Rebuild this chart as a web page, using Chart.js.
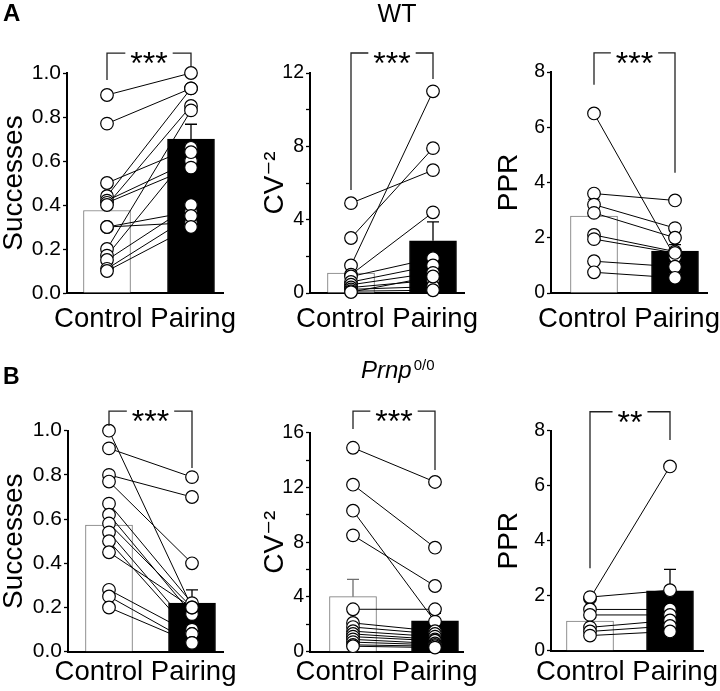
<!DOCTYPE html>
<html>
<head>
<meta charset="utf-8">
<script src="https://cdn.jsdelivr.net/npm/chart.js@4.4.0/dist/chart.umd.min.js"></script>
<style>
  body { margin: 0; background: #fff; width: 720px; height: 691px; position: relative; overflow: hidden;
         font-family: 'Liberation Sans', Arial, 'DejaVu Sans', sans-serif; color: #000; }
  .layer { position: absolute; left: 0; top: 0; width: 720px; height: 691px; }
  .txt { position: absolute; line-height: 1; white-space: nowrap; z-index: 5; }
  .sup { font-size: 15px; font-style: normal; position: relative; top: -8px; margin-left: 2px; }
</style>
</head>
<body>
<div class="txt" style="left:3px;top:1px;font-size:24px;font-weight:bold">A</div>
<div class="txt" style="left:347px;top:1px;width:100px;text-align:center;font-size:25px">WT</div>
<div class="txt" style="left:3px;top:365px;font-size:23px;font-weight:bold">B</div>
<div class="txt" style="left:361px;top:358px;font-size:24px;font-style:italic">Prnp<span class="sup">0/0</span></div>

<canvas id="a1" class="layer" width="720" height="691"></canvas>
<canvas id="a2" class="layer" width="720" height="691"></canvas>
<canvas id="a3" class="layer" width="720" height="691"></canvas>
<canvas id="b1" class="layer" width="720" height="691"></canvas>
<canvas id="b2" class="layer" width="720" height="691"></canvas>
<canvas id="b3" class="layer" width="720" height="691"></canvas>

<script>
const categories = ['Control', 'Pairing'];

// A: WT
const wtSuccControl = [0.90, 0.77, 0.50, 0.44, 0.42, 0.41, 0.40, 0.30, 0.30, 0.20, 0.17, 0.15, 0.11, 0.10];
const wtSuccPairing = [1.00, 0.93, 0.66, 0.93, 0.60, 0.57, 0.85, 0.32, 0.37, 0.83, 0.64, 0.40, 0.35, 0.30];
const wtSuccMean = [0.375, 0.70];
const wtSuccErr = [0.425, 0.767];

const wtCvControl = [4.9, 3.0, 1.5, 1.0, 0.9, 0.6, 0.45, 0.3, 0.2, 0.1, 0.05];
const wtCvPairing = [6.7, 7.9, 11.0, 4.4, 1.9, 1.5, 1.1, 0.7, 0.35, 0.15, 0.9];
const wtCvMean = [1.08, 2.85];
const wtCvErr = [1.35, 3.88];

const wtPprControl = [6.5, 3.6, 3.2, 2.9, 2.1, 1.95, 1.15, 0.75];
const wtPprPairing = [1.3, 3.35, 2.35, 2.0, 1.5, 1.45, 0.95, 0.55];
const wtPprMean = [2.78, 1.52];
const wtPprErr = [3.39, 1.75];

// B: Prnp 0/0
const koSuccControl = [1.00, 0.92, 0.80, 0.77, 0.67, 0.62, 0.58, 0.54, 0.50, 0.45, 0.28, 0.25, 0.20];
const koSuccPairing = [0.20, 0.79, 0.70, 0.40, 0.22, 0.17, 0.20, 0.10, 0.08, 0.20, 0.08, 0.04, 0.04];
const koSuccMean = [0.573, 0.22];
const koSuccErr = [0.63, 0.28];

const koCvControl = [14.9, 12.2, 10.3, 8.5, 3.1, 2.1, 1.8, 1.5, 1.3, 1.1, 0.9, 0.7, 0.5, 0.4];
const koCvPairing = [12.4, 7.6, 2.2, 4.8, 3.1, 1.5, 1.3, 1.1, 0.9, 0.8, 0.6, 0.5, 0.4, 0.3];
const koCvMean = [4.02, 2.26];
const koCvErr = [5.28, 2.8];

const koPprControl = [1.9, 1.95, 1.5, 1.3, 0.85, 0.7, 0.55];
const koPprPairing = [6.7, 2.2, 1.5, 1.3, 1.1, 0.9, 0.7];
const koPprMean = [1.08, 2.18];
const koPprErr = [1.3, 2.96];

const FONT = "'Liberation Sans', Arial, 'DejaVu Sans', sans-serif";
Chart.defaults.font.family = FONT;
Chart.defaults.color = '#000';

function errorBarPlugin(tops) {
  return {
    id: 'errorBars',
    afterDatasetDraw(chart, args) {
      if (args.meta.type !== 'bar') return;
      const ctx = chart.ctx;
      const y = chart.scales.y;
      args.meta.data.forEach((bar, i) => {
        const top = y.getPixelForValue(tops[i]);
        ctx.save();
        ctx.strokeStyle = i === 0 ? '#6f6f6f' : '#000';
        ctx.lineWidth = 1.3;
        ctx.beginPath();
        ctx.moveTo(bar.x, bar.y);
        ctx.lineTo(bar.x, top);
        ctx.moveTo(bar.x - 6, top);
        ctx.lineTo(bar.x + 6, top);
        ctx.stroke();
        ctx.restore();
      });
    }
  };
}

// significance bracket and the "Control Pairing" line under the axis
function annotationPlugin(b, labelBaseline) {
  return {
    id: 'annot',
    afterDraw(chart) {
      const { ctx, chartArea, scales: { x, y } } = chart;
      const x0 = x.getPixelForValue(0), x1 = x.getPixelForValue(1);
      const yt = y.getPixelForValue(b.top);
      const mid = (x0 + x1) / 2;
      ctx.save();
      ctx.font = '32px ' + FONT;
      const w = ctx.measureText(b.text).width;
      ctx.strokeStyle = '#222';
      ctx.lineWidth = 1.3;
      ctx.beginPath();
      ctx.moveTo(x0, y.getPixelForValue(b.left));
      ctx.lineTo(x0, yt);
      ctx.lineTo(mid - w / 2 - 5, yt);
      ctx.moveTo(mid + w / 2 + 5, yt);
      ctx.lineTo(x1, yt);
      ctx.lineTo(x1, y.getPixelForValue(b.right));
      ctx.stroke();
      ctx.fillStyle = '#000';
      ctx.textAlign = 'center';
      ctx.textBaseline = 'alphabetic';
      ctx.fillText(b.text, mid, yt + 21);

      ctx.font = '27.5px ' + FONT;
      ctx.fillText(categories.join(' '), (chartArea.left + chartArea.right) / 2, labelBaseline);
      ctx.restore();
    }
  };
}

function makePanel(id, p, L) {
  const span = L.pairX - L.ctrlX;
  const xAxisH = 10;
  const datasets = [{
    type: 'bar',
    data: p.mean.map((v, i) => ({ x: i, y: v })),
    backgroundColor: ['#fff', '#000'],
    borderColor: ['#7a7a7a', '#000'],
    borderWidth: 1,
    barThickness: 47,
    order: 10
  }];
  p.control.forEach((c, i) => {
    datasets.push({
      type: 'line',
      data: [{ x: 0, y: c }, { x: 1, y: p.pairing[i] }],
      borderColor: '#000',
      borderWidth: 1,
      pointRadius: 0,
      clip: false,
      order: 5
    });
  });
  datasets.push({
    type: 'line',
    showLine: false,
    data: p.control.map(v => ({ x: 0, y: v })).concat(p.pairing.map(v => ({ x: 1, y: v }))),
    pointRadius: 6.3,
    pointBorderWidth: 1.2,
    pointBackgroundColor: '#fff',
    pointBorderColor: '#000',
    clip: false,
    order: 0
  });

  new Chart(document.getElementById(id), {
    type: 'bar',
    data: { datasets },
    options: {
      responsive: false,
      animation: false,
      events: [],
      layout: {
        padding: { left: L.titleLeft, top: L.top, right: 720 - L.right, bottom: 691 - L.bottom - xAxisH }
      },
      plugins: { legend: { display: false }, tooltip: { enabled: false } },
      scales: {
        x: {
          type: 'linear',
          offset: false,
          min: -(L.ctrlX - L.axisX) / span,
          max: 1 + (L.right - L.pairX) / span,
          ticks: { display: false },
          grid: { display: false, offset: false },
          border: { display: true, color: '#000', width: 2 },
          afterFit(s) { s.height = xAxisH; s.paddingLeft = 0; s.paddingRight = 0; }
        },
        y: {
          min: 0,
          max: p.yMax,
          ticks: {
            stepSize: p.step,
            autoSkip: false,
            maxTicksLimit: 30,
            padding: 2,
            font: { size: p.tickSize },
            color: '#000',
            callback: v => {
              const r = v / p.labelEvery;
              return Math.abs(r - Math.round(r)) < 1e-6 ? v.toFixed(p.decimals) : '';
            }
          },
          grid: { drawOnChartArea: false, drawTicks: true, tickLength: 4, tickWidth: 1.3, color: '#000' },
          border: { display: true, color: '#000', width: 2 },
          title: { display: true, text: p.yTitle, font: { size: 28, lineHeight: 1 }, padding: 0, color: '#000' },
          afterFit(s) { s.width = L.axisX - L.titleLeft; s.paddingTop = 0; s.paddingBottom = 0; }
        }
      }
    },
    plugins: [errorBarPlugin(p.err), annotationPlugin(p.bracket, L.labelBaseline)]
  });
}

makePanel('a1', {
  control: wtSuccControl, pairing: wtSuccPairing, mean: wtSuccMean, err: wtSuccErr,
  yTitle: 'Successes', yMax: 1, step: 0.2, labelEvery: 0.2, decimals: 1, tickSize: 21,
  bracket: { text: '***', top: 1.09, left: 0.968, right: 1.032 }
}, { axisX: 67, top: 73, bottom: 293, right: 223, ctrlX: 107, pairX: 191, titleLeft: 0, labelBaseline: 326.5 });

makePanel('a2', {
  control: wtCvControl, pairing: wtCvPairing, mean: wtCvMean, err: wtCvErr,
  yTitle: 'CV\u207B\u00B2', yMax: 12, step: 2, labelEvery: 4, decimals: 0, tickSize: 19.5,
  bracket: { text: '***', top: 13.09, left: 5.62, right: 11.67 }
}, { axisX: 310, top: 73, bottom: 293, right: 464, ctrlX: 351, pairX: 433, titleLeft: 261.5, labelBaseline: 326.5 });

makePanel('a3', {
  control: wtPprControl, pairing: wtPprPairing, mean: wtPprMean, err: wtPprErr,
  yTitle: 'PPR', yMax: 8, step: 2, labelEvery: 2, decimals: 0, tickSize: 19.5,
  bracket: { text: '***', top: 8.69, left: 7.54, right: 4.35 }
}, { axisX: 551, top: 72, bottom: 293, right: 707, ctrlX: 594, pairX: 675, titleLeft: 495, labelBaseline: 326.5 });

makePanel('b1', {
  control: koSuccControl, pairing: koSuccPairing, mean: koSuccMean, err: koSuccErr,
  yTitle: 'Successes', yMax: 1, step: 0.2, labelEvery: 0.2, decimals: 1, tickSize: 21,
  bracket: { text: '***', top: 1.089, left: 1.021, right: 0.831 }
}, { axisX: 68, top: 430.7, bottom: 651.7, right: 223, ctrlX: 109, pairX: 192, titleLeft: 0, labelBaseline: 679.5 });

makePanel('b2', {
  control: koCvControl, pairing: koCvPairing, mean: koCvMean, err: koCvErr,
  yTitle: 'CV\u207B\u00B2', yMax: 16, step: 2, labelEvery: 4, decimals: 0, tickSize: 19.5,
  bracket: { text: '***', top: 17.58, left: 16.27, right: 13.27 }
}, { axisX: 310, top: 432.7, bottom: 651.7, right: 463, ctrlX: 353, pairX: 435, titleLeft: 261.5, labelBaseline: 679.5 });

makePanel('b3', {
  control: koPprControl, pairing: koPprPairing, mean: koPprMean, err: koPprErr,
  yTitle: 'PPR', yMax: 8, step: 2, labelEvery: 2, decimals: 0, tickSize: 19.5,
  bracket: { text: '**', top: 8.69, left: 3.0, right: 7.66 }
}, { axisX: 551, top: 430.7, bottom: 650.7, right: 703, ctrlX: 590, pairX: 670, titleLeft: 495, labelBaseline: 679.5 });
</script>
</body>
</html>
